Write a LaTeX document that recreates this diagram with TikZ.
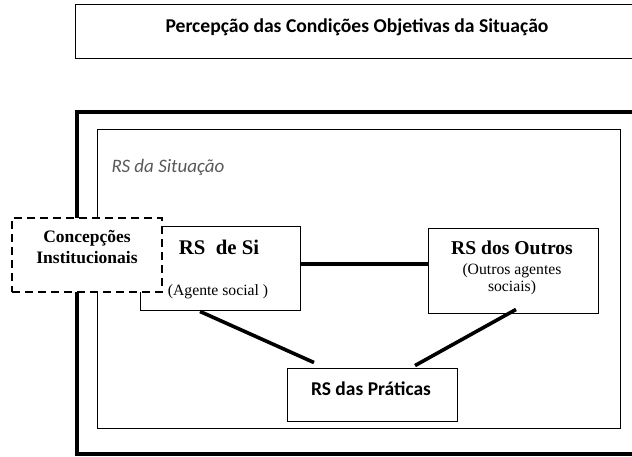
\documentclass[tikz,border=0pt]{standalone}
\usepackage{fontspec}
\setmainfont{Liberation Serif}
\newfontfamily\calibri{Carlito}
\usepackage{tikz}
\usetikzlibrary{positioning,calc}
\tikzset{box/.style={
		draw, rectangle, line width=0.9pt, fill=white, inner sep=0pt
	},
	link/.style={line width=3.6pt}
}

\begin{document}
\begin{tikzpicture}[x=1pt, y=-1pt]
	\useasboundingbox (0,0) rectangle (632,456);
	
	\node[box, minimum width=580, minimum height=54, anchor=north west] (percep) at (75,4) {};
	\node[font=\calibri\bfseries\fontsize{19.6}{20}\selectfont] (perceptxt) at (357,27) {Percepção das Condições Objetivas da Situação};
	
	\draw[line width=3.4pt] (77,112) rectangle (660,454);
	\draw[line width=0.9pt] (97,129) rectangle (620,428);
	\node[anchor=west, text=black!65, font=\calibri\itshape\fontsize{19}{19}\selectfont] (situacao) at (108,167) {RS da Situação};
	
	\node[box, minimum width=170, minimum height=53] (praticas) at (372,394.5) {};
	\node[font=\calibri\bfseries\fontsize{19.5}{20}\selectfont] (praticastxt) at (371,389) {RS das Práticas};
	
	\node[box, minimum width=170, minimum height=85] (outros) at (513,270.5) {};
	\node[font=\bfseries\fontsize{19.6}{20}\selectfont] (outrostxt) at (512,248) {RS dos Outros};
	\node[align=center, font=\fontsize{15.7}{17}\selectfont] (outrossub) at (512,279) {(Outros agentes\\sociais)};
	
	\node[box, minimum width=160, minimum height=84] (desi) at (220,268) {};
	\node[font=\bfseries\fontsize{20.8}{21}\selectfont] (desitxt) at (219,247) {RS\ \ de Si};
	\node[font=\fontsize{15.7}{16}\selectfont] (desisub) at (218,292) {(Agente social )};
	
	\draw[link] ($(desi.east)+(0,-4)$) -- ($(outros.west)+(0,-6.5)$);
	\draw[link] ($(desi.south)+(-20,1)$) -- ($(praticas.north)+(-58,-5)$);
	\draw[link] ($(outros.south)+(3,-4)$) -- ($(praticas.north)+(43,-2)$);
	
	\node[box, dashed, line width=2.4pt, dash pattern=on 8pt off 5pt, minimum width=150, minimum height=74] (concep) at (87,255) {};
	\node[align=center, font=\bfseries\fontsize{17.5}{20.5}\selectfont] (conceptxt) at (87,247) {Concepções\\Institucionais};

\end{tikzpicture}
\end{document}
